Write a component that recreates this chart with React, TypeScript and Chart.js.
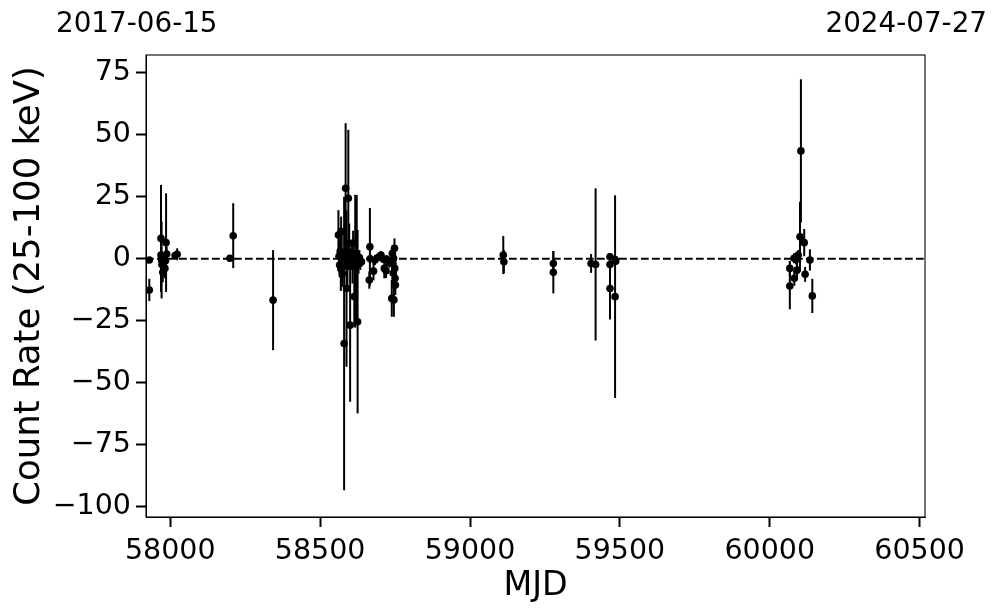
import React, { useEffect, useRef } from "react";
import { Chart, registerables } from "chart.js";
Chart.register(...registerables);

// Observation dates (MJD), count rates and 1-sigma errors (25-100 keV)
const MJD = [
  57930, 57930, 57969, 57971, 57986, 57969, 57988, 57972, 57982, 57984, 57975, 58016, 58023,
  58199, 58210, 58343,
  58561, 58563, 58565, 58567, 58569, 58570, 58572, 58574, 58580, 58583, 58585, 58588, 58591,
  58594, 58597, 58600, 58605, 58608, 58610, 58614, 58617, 58620, 58622, 58625, 58628, 58631,
  58634, 58638,
  58664, 58666, 58667, 58678, 58683, 58694, 58703, 58711, 58714, 58720, 58722, 58731, 58739,
  58741, 58743, 58744, 58745, 58746, 58748, 58749, 58750, 58751,
  59111, 59113, 59278, 59278, 59404, 59419, 59467, 59467, 59467, 59484, 59484, 59486,
  60067, 60067, 60081, 60082, 60088, 60091, 60095, 60101, 60104, 60115, 60118, 60134, 60142,
];
const RATE = [
  -0.5, -12.6, 8.2, -0.5, 6.5, 1.5, 1.9, -2.3, -3.9, -0.8, -5.5, 1.3, 1.8,
  0.2, 9.3, -16.7,
  9.6, 1, -2.5, 3, -4, 11, 0.5, -6, -34.2, 2, 28.4, -12, -3,
  24.4, 6.2, -26.8, 1.5, -3, 6.3, -15.3, -1, 2, 0, -25.4, -2, 0.5,
  -1.5, -1.2,
  -8.6, 4.8, 0, -5, -0.5, 0.6, 1.5, -0.2, -3.9, -4.8, -0.1, -1.6, -16,
  2.2, -1.9, -5.9, 0.2, -16.6, 4.2, -3.9, -7.9, -10.6,
  1.5, -1.2, -1.9, -5.5, -1.9, -2.3, 0.8, -2.3, -12, -0.3, -15.3, -1,
  -3.9, -11, 0.2, -7.9, -0.3, -4.6, 1.5, 8.9, 43.5, 6.5, -6.3, -0.5, -15,
];
const ERR = [
  1, 4.5, 21.6, 15.5, 19.9, 4, 3, 5, 4, 3, 4, 1, 2.4,
  0.5, 13.1, 20.2,
  10, 6, 5, 8, 9, 6, 12, 5, 59.2, 6, 26.3, 31.6, 8,
  27.6, 8, 30.9, 6, 7, 5, 12, 26.8, 5, 25.7, 37, 4, 3,
  3, 2,
  3.5, 15.7, 2, 3.7, 2, 1.5, 1.5, 1.5, 4, 3, 1.5, 2, 7.4,
  3, 3, 4, 3, 6.8, 4, 3, 3, 4,
  7.7, 4.7, 5, 8.5, 3.8, 30.7, 1.5, 2, 12.5, 1.5, 40.9, 1.5,
  3, 9.4, 2, 3, 2, 3, 2, 14.1, 28.9, 5.5, 3, 4.3, 6.9,
];

const X_MIN = 57919;
const X_MAX = 60518;
const Y_MIN = -104.2;
const Y_MAX = 82.2;
const X_TICKS = [58000, 58500, 59000, 59500, 60000, 60500];
const Y_TICKS = [-100, -75, -50, -25, 0, 25, 50, 75];
const DATE_LEFT = "2017-06-15";
const DATE_RIGHT = "2024-07-27";
const X_TITLE = "MJD";
const Y_TITLE = "Count Rate (25-100 keV)";

const FONT = "'DejaVu Sans', sans-serif";

const errorBarPlugin = {
  id: "errorBars",
  beforeDatasetsDraw(chart: any) {
    const ctx = chart.ctx;
    const xs = chart.scales.x;
    const ys = chart.scales.y;
    const area = chart.chartArea;
    ctx.save();
    ctx.beginPath();
    ctx.rect(area.left, area.top, area.right - area.left, area.bottom - area.top);
    ctx.clip();
    ctx.strokeStyle = "#000";
    ctx.lineWidth = 2;
    for (let i = 0; i < MJD.length; i++) {
      const px = xs.getPixelForValue(MJD[i]);
      const y1 = ys.getPixelForValue(RATE[i] - ERR[i]);
      const y2 = ys.getPixelForValue(RATE[i] + ERR[i]);
      ctx.beginPath();
      ctx.moveTo(px, y1);
      ctx.lineTo(px, y2);
      ctx.stroke();
    }
    ctx.restore();
  },
  afterDraw(chart: any) {
    const ctx = chart.ctx;
    const a = chart.chartArea;
    ctx.save();
    ctx.strokeStyle = "#000";
    ctx.lineWidth = 1.1;
    ctx.strokeRect(a.left, a.top, a.right - a.left, a.bottom - a.top);
    ctx.fillStyle = "#000";
    ctx.font = `27.8px ${FONT}`;
    ctx.textBaseline = "alphabetic";
    ctx.textAlign = "left";
    ctx.fillText(DATE_LEFT, 56, 32);
    ctx.textAlign = "right";
    ctx.fillText(DATE_RIGHT, 987, 32);
    ctx.restore();
  },
};

const minus = (v: number) => String(v).replace("-", "\u2212");

export default function App() {
  const ref = useRef<HTMLCanvasElement | null>(null);
  useEffect(() => {
    if (!ref.current) return;
    const points = MJD.map((m, i) => ({ x: m, y: RATE[i] }));
    const chart = new Chart(ref.current, {
      type: "scatter",
      data: {
        datasets: [
          {
            type: "line",
            data: [
              { x: X_MIN, y: 0 },
              { x: X_MAX, y: 0 },
            ],
            borderColor: "#000",
            borderWidth: 2,
            borderDash: [7.7, 3.3],
            pointRadius: 0,
            fill: false,
          } as any,
          {
            data: points,
            backgroundColor: "#000",
            borderColor: "#000",
            borderWidth: 0,
            pointRadius: 3.8,
          },
        ],
      },
      options: {
        responsive: false,
        animation: false,
        events: [],
        layout: { padding: { left: 0, right: 72, top: 55, bottom: 0 } },
        plugins: { legend: { display: false }, tooltip: { enabled: false } },
        scales: {
          x: {
            type: "linear",
            min: X_MIN,
            max: X_MAX,
            afterBuildTicks: (s: any) => {
              s.ticks = X_TICKS.map((v) => ({ value: v }));
            },
            afterFit: (s: any) => {
              s.height = 96;
            },
            grid: {
              drawOnChartArea: false,
              drawTicks: true,
              tickLength: 10,
              tickWidth: 2,
              tickColor: "#000",
            },
            border: { display: true, color: "#000", width: 1 },
            ticks: {
              color: "#000",
              font: { family: FONT, size: 28.5 },
              padding: 7,
              maxRotation: 0,
              autoSkip: false,
              callback: (v: any) => minus(v),
            },
            title: {
              display: true,
              text: X_TITLE,
              color: "#000",
              font: { family: FONT, size: 33.3 },
              padding: { top: 0, bottom: 7 },
            },
          },
          y: {
            type: "linear",
            min: Y_MIN,
            max: Y_MAX,
            afterBuildTicks: (s: any) => {
              s.ticks = Y_TICKS.map((v) => ({ value: v }));
            },
            afterFit: (s: any) => {
              s.width = 146;
            },
            grid: {
              drawOnChartArea: false,
              drawTicks: true,
              tickLength: 10,
              tickWidth: 2,
              tickColor: "#000",
            },
            border: { display: true, color: "#000", width: 1 },
            ticks: {
              color: "#000",
              font: { family: FONT, size: 28.5 },
              padding: 5,
              autoSkip: false,
              callback: (v: any) => minus(v),
            },
            title: {
              display: true,
              text: Y_TITLE,
              color: "#000",
              font: { family: FONT, size: 35.5 },
              padding: { top: 8, bottom: 0 },
            },
          },
        },
      },
      plugins: [errorBarPlugin],
    });
    return () => chart.destroy();
  }, []);
  return (
    <div style={{ position: "absolute", left: 0, top: 0, width: 997, height: 613, background: "#fff" }}>
      <canvas ref={ref} width={997} height={613} style={{ display: "block" }} />
    </div>
  );
}
